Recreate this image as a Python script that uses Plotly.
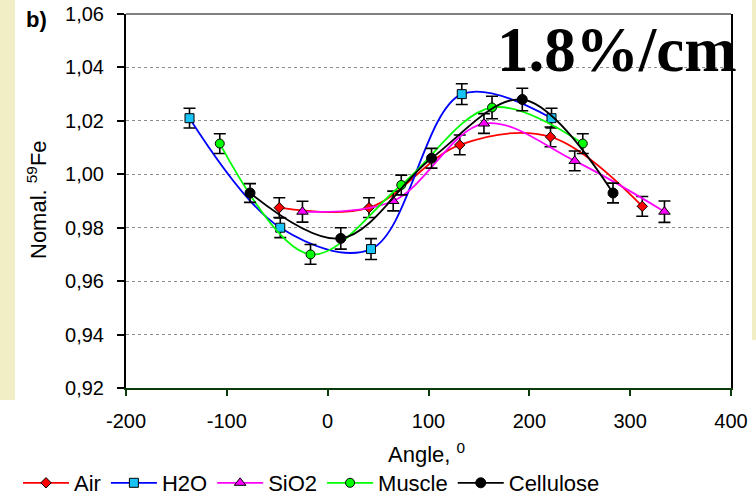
import plotly.graph_objects as go

# ---- data ----
air_x = [-48, 41, 131, 221, 312]
air_y = [0.9875, 0.9875, 1.011, 1.014, 0.988]
air_err = [0.0037, 0.0037, 0.0037, 0.0037, 0.0037]

h2o_x = [-137, -47, 43, 133, 222]
h2o_y = [1.021, 0.980, 0.972, 1.030, 1.021]
h2o_err = [0.0037, 0.0037, 0.0039, 0.0039, 0.0037]

sio2_x = [-25, 65, 155, 245, 334]
sio2_y = [0.986, 0.990, 1.019, 1.005, 0.986]
sio2_err = [0.0039, 0.0037, 0.0037, 0.0037, 0.0040]

muscle_x = [-107, -17, 73, 163, 253]
muscle_y = [1.0115, 0.970, 0.996, 1.025, 1.0115]
muscle_err = [0.0037, 0.0037, 0.0037, 0.0042, 0.0037]

cell_x = [-77, 13, 103, 193, 283]
cell_y = [0.993, 0.976, 1.006, 1.028, 0.993]
cell_err = [0.0035, 0.0040, 0.0037, 0.0042, 0.0037]

x_ticks = [-200, -100, 0, 100, 200, 300, 400]
x_labels = ["-200", "-100", "0", "100", "200", "300", "400"]
y_ticks = [0.92, 0.94, 0.96, 0.98, 1.00, 1.02, 1.04, 1.06]
y_labels = ["0,92", "0,94", "0,96", "0,98", "1,00", "1,02", "1,04", "1,06"]

FONT = "Arial, Liberation Sans, sans-serif"

series = [
    ("Air", air_x, air_y, air_err, "#FF0000", "diamond", "#FF0000", 8),
    ("H2O", h2o_x, h2o_y, h2o_err, "#0000FF", "square", "#19C3F5", 9),
    ("SiO2", sio2_x, sio2_y, sio2_err, "#FF00FF", "triangle-up", "#FF00FF", 10),
    ("Muscle", muscle_x, muscle_y, muscle_err, "#00FF00", "circle", "#00FF00", 9),
    ("Cellulose", cell_x, cell_y, cell_err, "#000000", "circle", "#000000", 10),
]

fig = go.Figure()
for name, xs, ys, es, lc, sym, fc, sz in series:
    fig.add_trace(go.Scatter(
        x=xs, y=ys, name=name, mode="lines+markers",
        line=dict(color=lc, width=1.8, shape="spline", smoothing=1.0),
        marker=dict(symbol=sym, size=sz, color=fc, line=dict(color="#000000", width=1)),
        error_y=dict(type="data", array=es, visible=True, color="#000000",
                     thickness=1.6, width=6),
    ))

W, H = 756, 497
L, R, T, B = 126, 25, 14, 109
pw, ph = W - L - R, H - T - B

def px(xp):
    return (xp - L) / pw

def py(yp):
    return (H - B - yp) / ph

shapes = [
    # slide background strips
    dict(type="rect", xref="paper", yref="paper", x0=px(0), x1=px(15), y0=py(400), y1=py(0),
         fillcolor="#F1EEC6", line=dict(width=0), layer="below"),
    dict(type="rect", xref="paper", yref="paper", x0=px(752), x1=px(757), y0=py(340), y1=py(0),
         fillcolor="#F1EEC6", line=dict(width=0), layer="below"),
    # top border
    dict(type="line", xref="paper", yref="paper", x0=0, x1=1, y0=1, y1=1,
         line=dict(color="#000000", width=1.2), layer="above"),
]

def ann(text, xp, yp, size, family=FONT, angle=0):
    return dict(text=text, x=px(xp), y=py(yp), xref="paper", yref="paper",
                xanchor="center", yanchor="middle", textangle=angle, showarrow=False,
                font=dict(family=family, size=size, color="#000"))

annotations = [
    ann("<b>b)</b>", 36, 20, 22),
    ann("<b>1.8%/cm</b>", 617, 50, 63, family="Liberation Serif, Times New Roman, serif"),
    ann("Nomal. <sup>59</sup>Fe", 37, 200, 22, angle=-90),
    ann("Angle, <sup>0</sup>", 426, 453, 22),
]

fig.update_layout(
    width=W, height=H,
    margin=dict(l=L, r=R, t=T, b=B, pad=0, autoexpand=False),
    paper_bgcolor="#FFFFFF", plot_bgcolor="#FFFFFF",
    font=dict(family=FONT, size=20, color="#000000"),
    showlegend=True,
    legend=dict(orientation="h", x=px(18), xanchor="left", y=py(483), yanchor="middle",
                font=dict(family=FONT, size=22, color="#000"), bgcolor="rgba(0,0,0,0)",
                itemwidth=46, tracegroupgap=0),
    shapes=shapes,
    annotations=annotations,
    xaxis=dict(range=[-200, 400], tickvals=x_ticks, ticktext=x_labels, showgrid=False, zeroline=False,
               showline=True, linecolor="#0B3B0B", linewidth=2, mirror=False,
               ticks="outside", ticklen=6, tickcolor="#0B3B0B", tickwidth=1.5,
               tickfont=dict(family=FONT, size=20), ticklabelstandoff=8, automargin=False),
    yaxis=dict(range=[0.92, 1.06], tickvals=y_ticks, ticktext=y_labels,
               showgrid=True, gridcolor="#8C8C8C", griddash="dot", gridwidth=1,
               zeroline=False, showline=True, linecolor="#000000", linewidth=2, mirror=True,
               ticks="outside", ticklen=7, tickcolor="#000000", tickwidth=1.5,
               tickfont=dict(family=FONT, size=20), ticklabelstandoff=9, automargin=False),
)

fig.write_html("out.html")
